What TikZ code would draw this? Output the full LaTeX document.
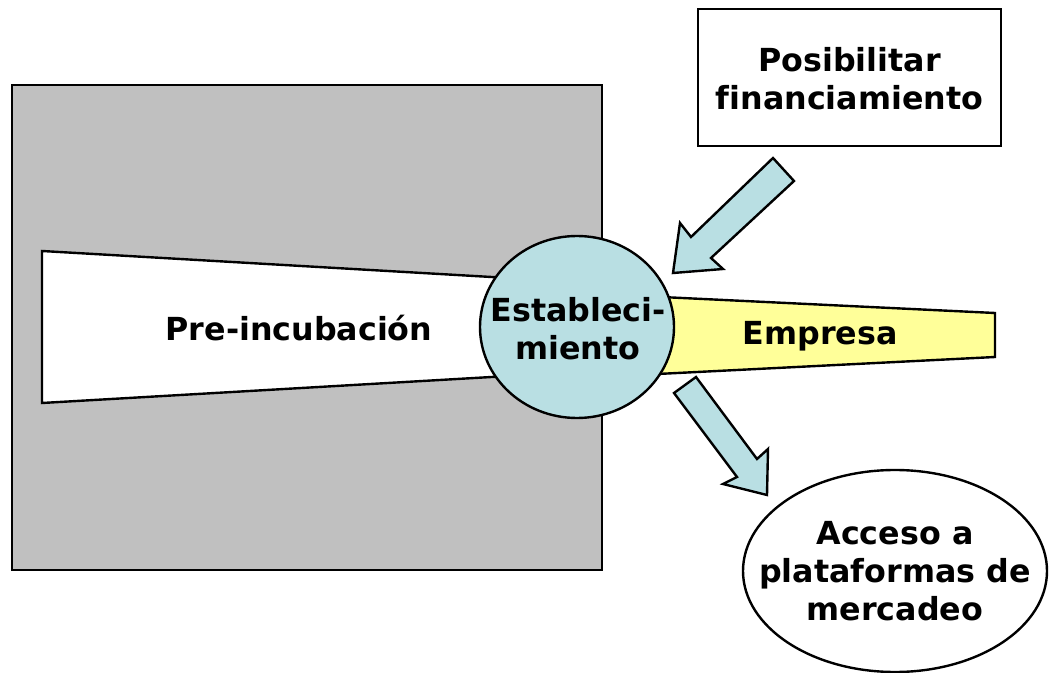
\documentclass[tikz,border=0pt]{standalone}
\usepackage{fontspec}
\setmainfont[Ligatures=NoCommon]{DejaVu Sans}
\usetikzlibrary{shapes.geometric}
\definecolor{boxgray}{HTML}{C0C0C0}
\definecolor{paleblue}{HTML}{B9DFE3}
\definecolor{paleyellow}{HTML}{FFFF99}
\begin{document}
\begin{tikzpicture}[x=0.75pt, y=-0.75pt, line width=1.8pt]
    % Define styles
    \tikzset{
        caption/.style={
            font=\fontsize{23.8}{28.6}\selectfont\bfseries,
            align=center,
            inner sep=0pt
        },
        stage/.style={
            ellipse,
            draw,
            fill=paleblue,
            minimum width=145.5pt,
            minimum height=136.5pt
        },
        outcome/.style={
            ellipse,
            draw,
            fill=white,
            minimum width=228pt,
            minimum height=151.5pt
        },
        support/.style={
            rectangle,
            draw,
            fill=white,
            minimum width=227pt,
            minimum height=103pt
        },
        blockarrow/.style={
            draw,
            fill=paleblue,
            line join=miter
        }
    }
    \useasboundingbox (0,0) rectangle (1049,673);

    % Background block and funnels
    \draw[fill=boxgray] (12,85) rectangle (602,570);
    \draw[fill=white] (42,251) -- (578,282) -- (578,372) -- (42,403) -- cycle;
    \draw[fill=paleyellow] (578,293) -- (995,313) -- (995,357) -- (578,378) -- cycle;

    % Nodes
    \node[stage] (estab) at (577,327) {};
    \node[caption] (estabtext) at (578,329) {Estableci-\\miento};
    \node[caption] (pre) at (299,328) {Pre-incubación};
    \node[caption] (empresa) at (820,336) {Empresa};
    \node[support] (finan) at (849.5,77.5) {};
    \node[caption] (finantext) at (849.5,79) {Posibilitar\\financiamiento};
    \node[outcome] (mercado) at (895,571) {};
    \node[caption] (mercadotext) at (895,571) {Acceso a\\plataformas de\\mercadeo};

    % Block arrows
    \draw[blockarrow] (794,181) -- (711,258) -- (723,269) -- (673,273)
        -- (680,223) -- (691,237) -- (773,158) -- cycle;
    \draw[blockarrow] (696,377) -- (757,459) -- (768,449) -- (767,495)
        -- (723,484) -- (737,477) -- (674,393) -- cycle;
\end{tikzpicture}
\end{document}
